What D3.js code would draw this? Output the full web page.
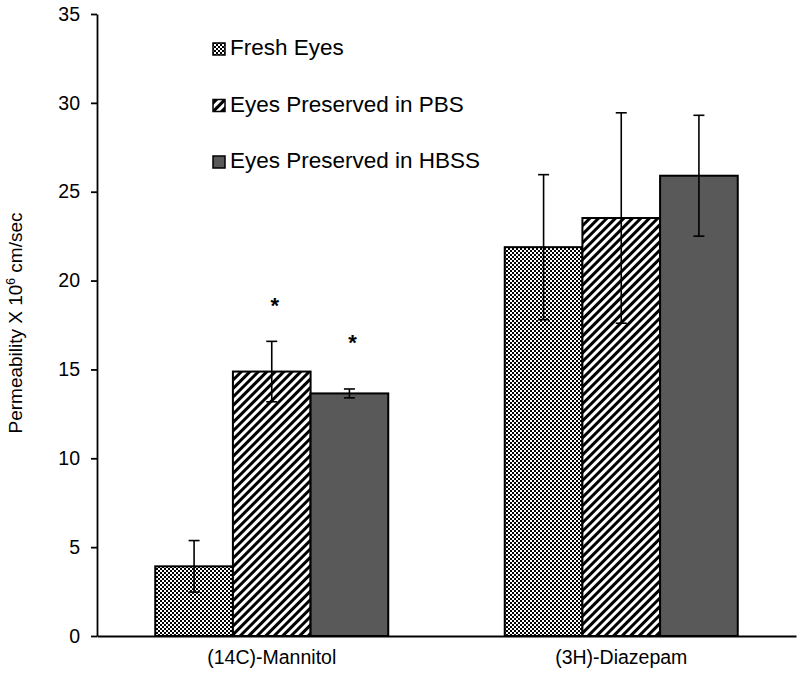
<!DOCTYPE html>
<html><head><meta charset="utf-8">
<script src="https://cdn.jsdelivr.net/npm/d3@7"></script>
<style>body{margin:0;background:#fff}svg{display:block}text{font-family:"Liberation Sans",Arial,sans-serif;fill:#000}</style>
</head><body><svg id="c" width="800" height="676"></svg>
<script>
const categories = ["(14C)-Mannitol", "(3H)-Diazepam"];
const seriesNames = ["Fresh Eyes", "Eyes Preserved in PBS", "Eyes Preserved in HBSS"];
const freshValues = [3.92, 21.88];
const freshErrors = [1.45, 4.08];
const pbsValues = [14.88, 23.52];
const pbsErrors = [1.7, 5.92];
const hbssValues = [13.65, 25.9];
const hbssErrors = [0.25, 3.4];
const sigMarks = [{cat: "(14C)-Mannitol", series: 1, y: 18.7}, {cat: "(14C)-Mannitol", series: 2, y: 16.6}];
const yTicks = [0, 5, 10, 15, 20, 25, 30, 35];

const values = [freshValues, pbsValues, hbssValues];
const errors = [freshErrors, pbsErrors, hbssErrors];
const fills = ["url(#checker)", "url(#stripes)", "#595959"];

const svg = d3.select("#c");
const defs = svg.append("defs");
const ck = defs.append("pattern").attr("id","checker").attr("patternUnits","userSpaceOnUse").attr("width",4).attr("height",4);
ck.append("rect").attr("width",4).attr("height",4).attr("fill","#fff");
ck.append("rect").attr("width",2).attr("height",2).attr("fill","#000");
ck.append("rect").attr("x",2).attr("y",2).attr("width",2).attr("height",2).attr("fill","#000");
const st = defs.append("pattern").attr("id","stripes").attr("patternUnits","userSpaceOnUse").attr("width",6).attr("height",6).attr("patternTransform","rotate(45)");
st.append("rect").attr("width",6).attr("height",6).attr("fill","#fff");
st.append("rect").attr("width",3).attr("height",6).attr("fill","#000");

const m = {left: 97, right: 796, top: 14, bottom: 636};
const x = d3.scaleBand().domain(categories).range([m.left, m.right]).paddingInner(1/3).paddingOuter(1/6);
const xs = d3.scaleBand().domain(d3.range(3)).range([0, x.bandwidth()]);
const y = d3.scaleLinear().domain([0, 35]).range([m.bottom, m.top]);

// bars
const g = svg.append("g");
categories.forEach((c, ci) => {
  d3.range(3).forEach(si => {
    g.append("rect").attr("x", x(c) + xs(si)).attr("y", y(values[si][ci]))
      .attr("width", xs.bandwidth()).attr("height", y(0) - y(values[si][ci]))
      .attr("fill", fills[si]).attr("stroke", "#000").attr("stroke-width", 2);
  });
});
// error bars
categories.forEach((c, ci) => {
  d3.range(3).forEach(si => {
    const cx = x(c) + xs(si) + xs.bandwidth()/2;
    const v = values[si][ci], e = errors[si][ci];
    const eg = g.append("g").attr("stroke", "#000").attr("stroke-width", 1.6);
    eg.append("line").attr("x1", cx).attr("x2", cx).attr("y1", y(v-e)).attr("y2", y(v+e));
    [v-e, v+e].forEach(t => eg.append("line").attr("x1", cx-5.5).attr("x2", cx+5.5).attr("y1", y(t)).attr("y2", y(t)));
  });
});
// significance marks
sigMarks.forEach(s => {
  const cx = x(s.cat) + xs(s.series) + xs.bandwidth()/2 + 3;
  svg.append("text").attr("x", cx).attr("y", y(s.y) + 9).attr("text-anchor","middle")
    .attr("font-size", 22).attr("font-weight","bold").text("*");
});

// axes
const ya = svg.append("g").attr("transform", `translate(${m.left},0)`)
  .call(d3.axisLeft(y).tickValues(yTicks).tickSize(6).tickPadding(11).tickSizeOuter(0));
ya.select(".domain").attr("stroke-width", 1.8);
ya.selectAll(".tick line").attr("stroke-width", 1.8);
ya.selectAll(".tick text").attr("font-size", 19.5).attr("font-family", null).style("fill", "#000");

const xa = svg.append("g").attr("transform", `translate(0,${m.bottom})`)
  .call(d3.axisBottom(x).tickSize(0).tickPadding(14).tickSizeOuter(0));
xa.select(".domain").attr("stroke-width", 1.8);
xa.selectAll(".tick text").attr("font-size", 19.5).attr("font-family", null).attr("dy","0.71em");

// y title
const yt = svg.append("text").attr("transform", "translate(22,323) rotate(-90)")
  .attr("text-anchor", "middle").attr("font-size", 19);
yt.append("tspan").text("Permeability X 10");
yt.append("tspan").attr("font-size", 12).attr("dy", -7).text("6");
yt.append("tspan").attr("dy", 7).text(" cm/sec");

// legend
const lg = svg.append("g");
seriesNames.forEach((n, i) => {
  const ly = 55 + i * 56.5;
  lg.append("rect").attr("x", 213).attr("y", ly - 12).attr("width", 12).attr("height", 12)
    .attr("fill", fills[i]).attr("stroke", "#000").attr("stroke-width", 1.5);
  lg.append("text").attr("x", 230).attr("y", ly).attr("font-size", 22.5).text(n);
});
</script></body></html>
